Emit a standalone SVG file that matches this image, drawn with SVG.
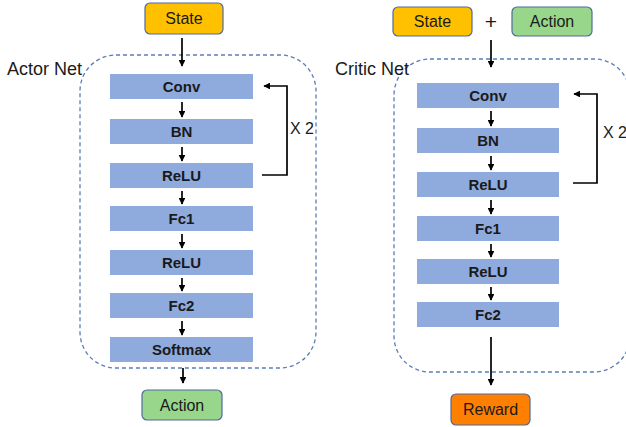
<svg xmlns="http://www.w3.org/2000/svg" width="626" height="427" viewBox="0 0 626 427">
  <style>
    .layer { fill: #8FAADC; }
    .layer-label { font-family: "Liberation Sans", Arial, sans-serif; font-weight: bold; font-size: 15px; fill: #1a1a1a; text-anchor: middle; }
    .io { stroke: #4F6A9E; stroke-width: 1.2; }
    .io-label { font-family: "Liberation Sans", Arial, sans-serif; font-size: 16px; fill: #1a1a1a; text-anchor: middle; }
    .net { fill: none; stroke: #5B7DB8; stroke-width: 1.3; stroke-dasharray: 4 3; }
    .net-label { font-family: "Liberation Sans", Arial, sans-serif; font-size: 18px; fill: #1a1a1a; }
    .rep { font-family: "Liberation Sans", Arial, sans-serif; font-size: 16px; fill: #1a1a1a; }
    .conn { fill: none; stroke: #000; stroke-width: 1.7; }
  </style>
  <defs>
    <marker id="arrow" viewBox="0 0 10 10" refX="9" refY="5" markerWidth="4" markerHeight="4" orient="auto">
      <path d="M0,0 L10,5 L0,10 z" fill="#000"/>
    </marker>
  </defs>

  <!-- Actor network container -->
  <g id="actor-net">
    <rect class="net" x="80" y="55" width="236" height="313" rx="36" ry="36"/>
    <text class="net-label" x="7" y="75">Actor Net</text>
  </g>

  <!-- Critic network container -->
  <g id="critic-net">
    <rect class="net" x="394" y="59" width="236" height="313" rx="36" ry="36"/>
    <text class="net-label" x="335" y="75">Critic Net</text>
  </g>

  <!-- Actor inputs / outputs -->
  <g id="actor-state">
    <rect class="io" x="145" y="3" width="78" height="31" rx="5" fill="#FFC000"/>
    <text class="io-label" x="184" y="24">State</text>
  </g>
  <g id="actor-action">
    <rect class="io" x="142" y="390" width="80" height="30" rx="5" fill="#97D68B"/>
    <text class="io-label" x="182" y="411">Action</text>
  </g>

  <!-- Actor layers -->
  <g id="actor-conv"><rect class="layer" x="110" y="74" width="143" height="25"/><text class="layer-label" x="181.5" y="92">Conv</text></g>
  <g id="actor-bn"><rect class="layer" x="110" y="119" width="143" height="25"/><text class="layer-label" x="181.5" y="137">BN</text></g>
  <g id="actor-relu1"><rect class="layer" x="110" y="163" width="143" height="25"/><text class="layer-label" x="181.5" y="181">ReLU</text></g>
  <g id="actor-fc1"><rect class="layer" x="110" y="206" width="143" height="25"/><text class="layer-label" x="181.5" y="224">Fc1</text></g>
  <g id="actor-relu2"><rect class="layer" x="110" y="250" width="143" height="25"/><text class="layer-label" x="181.5" y="268">ReLU</text></g>
  <g id="actor-fc2"><rect class="layer" x="110" y="293" width="143" height="25"/><text class="layer-label" x="181.5" y="311">Fc2</text></g>
  <g id="actor-softmax"><rect class="layer" x="110" y="337" width="143" height="25"/><text class="layer-label" x="181.5" y="355">Softmax</text></g>
  <text class="rep" x="290" y="134">X 2</text>

  <!-- Critic inputs / outputs -->
  <g id="critic-state">
    <rect class="io" x="393" y="7" width="79" height="29" rx="5" fill="#FFC000"/>
    <text class="io-label" x="432.5" y="27">State</text>
  </g>
  <text class="io-label" x="491" y="29" style="font-size:21px">+</text>
  <g id="critic-action">
    <rect class="io" x="512" y="7" width="80" height="29" rx="5" fill="#97D68B"/>
    <text class="io-label" x="552" y="27">Action</text>
  </g>
  <g id="critic-reward">
    <rect class="io" x="451" y="394" width="79" height="31" rx="5" fill="#FF7F00"/>
    <text class="io-label" x="490.5" y="415">Reward</text>
  </g>

  <!-- Critic layers -->
  <g id="critic-conv"><rect class="layer" x="417" y="83" width="142" height="25"/><text class="layer-label" x="488" y="101">Conv</text></g>
  <g id="critic-bn"><rect class="layer" x="417" y="128" width="142" height="25"/><text class="layer-label" x="488" y="146">BN</text></g>
  <g id="critic-relu1"><rect class="layer" x="417" y="172" width="142" height="25"/><text class="layer-label" x="488" y="190">ReLU</text></g>
  <g id="critic-fc1"><rect class="layer" x="417" y="216" width="142" height="25"/><text class="layer-label" x="488" y="234">Fc1</text></g>
  <g id="critic-relu2"><rect class="layer" x="417" y="259" width="142" height="25"/><text class="layer-label" x="488" y="277">ReLU</text></g>
  <g id="critic-fc2"><rect class="layer" x="417" y="302" width="142" height="25"/><text class="layer-label" x="488" y="320">Fc2</text></g>
  <text class="rep" x="603" y="138">X 2</text>

  <!-- Connectors -->
  <g id="connectors" class="conn" marker-end="url(#arrow)">
    <!-- actor chain -->
    <path d="M182,38 V66"/>
    <path d="M182,102 V117"/>
    <path d="M182,147 V161"/>
    <path d="M182,191 V204"/>
    <path d="M182,234 V248"/>
    <path d="M182,278 V291"/>
    <path d="M182,321 V335"/>
    <path d="M183,368 V383"/>
    <path d="M262,175 H287 V86 H264"/>
    <!-- critic chain -->
    <path d="M491,40 V67"/>
    <path d="M491,111 V126"/>
    <path d="M491,156 V170"/>
    <path d="M491,200 V214"/>
    <path d="M491,244 V257"/>
    <path d="M491,287 V300"/>
    <path d="M491,337 V385"/>
    <path d="M573,183 H597 V94 H574"/>
  </g>
</svg>
